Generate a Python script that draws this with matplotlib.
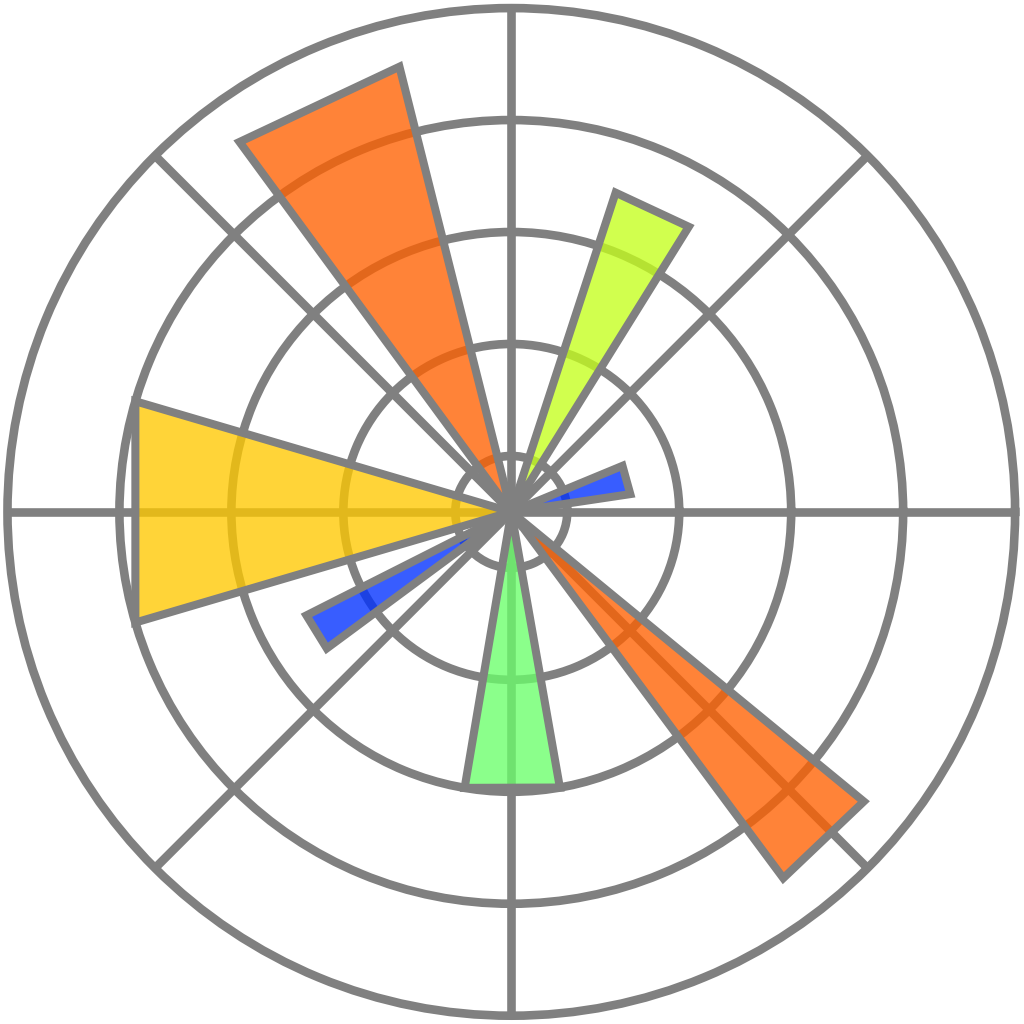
import numpy as np
import matplotlib
matplotlib.use('Agg')
import matplotlib.pyplot as plt
from matplotlib.colors import to_rgba

# angles of the bar edges in degrees
start = [8.5, 58.1, 104.1, 163.6, 206.8, 260.4, 306.6]
stop = [22.5, 71.9, 126.3, 196.4, 216.5, 280.0, 320.6]
radii = [2.15, 6, 8.2, 7, 4.1, 5, 8.15]
colors = ['#0030ff', '#c5ff1c', '#ff6000', '#ffc900', '#0030ff', '#6bff6b', '#ff6000']
rgrid = [1, 3, 5, 7]
tgrid = [0, 45, 90, 135, 180, 225, 270, 315]
rmax = 9

grey = '#808080'

fig = plt.figure(figsize=(10.24, 10.24), dpi=100)
with plt.rc_context({'axes.edgecolor': grey, 'axes.linewidth': 6.2}):
    ax = fig.add_axes([0.0073, 0.0081, 0.984, 0.984], projection='polar')
ax.set_axisbelow(True)

# bars as straight-edged wedges (no arc on the outer edge)
for t0, t1, r, c in zip(start, stop, radii, colors):
    a0, a1 = np.deg2rad(t0), np.deg2rad(t1)
    ax.fill([a0, a0, a1, a1], [0, r, r, 0], facecolor=to_rgba(c, 0.78),
            edgecolor=grey, lw=5.8, joinstyle='miter', zorder=2)

ax.set_xticks(np.deg2rad(tgrid))
ax.set_yticks(rgrid)
ax.set_xticklabels([])
ax.set_yticklabels([])
ax.tick_params(length=0)
ax.grid(True, color=grey, lw=6.2, ls='-')
ax.set_ylim(0, rmax)

fig.savefig('out.png', dpi=100)
